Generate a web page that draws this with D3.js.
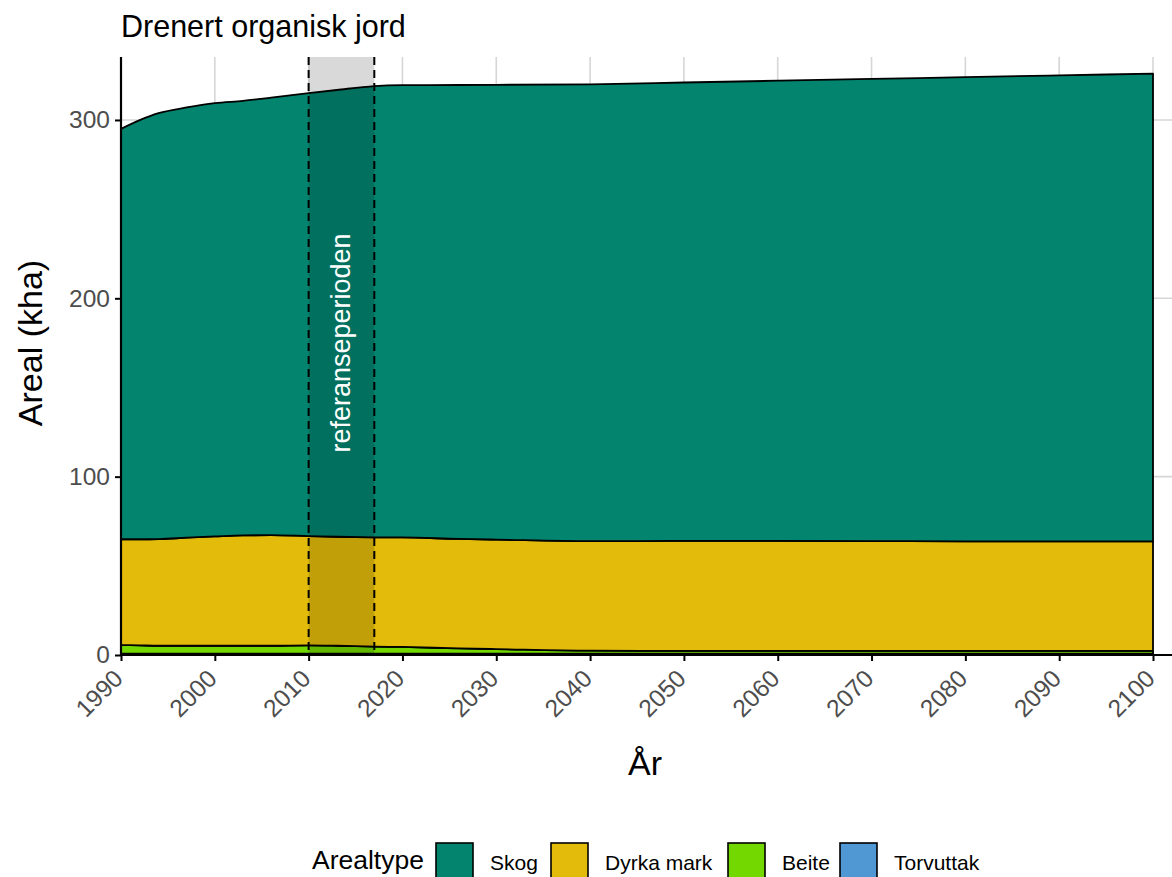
<!DOCTYPE html>
<html><head><meta charset="utf-8">
<script src="https://cdn.jsdelivr.net/npm/d3@7"></script>
<style>body{margin:0;background:#fff;} text{font-family:"Liberation Sans",Arial,sans-serif;}</style>
</head><body>
<svg id="c" width="1172" height="877"></svg>
<script>
const years      = [1990,1992,1994,1997,2000,2003,2006,2010,2013,2017,2020,2026,2030,2040,2050,2060,2070,2080,2090,2100];
const torvuttak  = [0.8,0.8,0.8,0.8,0.8,0.8,0.8,0.8,0.8,0.8,0.8,0.8,0.8,0.8,0.8,0.8,0.8,0.8,0.8,0.8];
const beite      = [4.8,4.6,4.4,4.4,4.4,4.4,4.4,4.6,4.4,3.9,3.7,2.9,2.5,1.6,1.5,1.5,1.5,1.5,1.5,1.5];
const dyrka      = [59.3,59.5,59.8,60.6,61.3,61.9,62.0,61.3,61.1,61.3,61.4,61.4,61.4,61.4,61.7,61.7,61.6,61.4,61.4,61.4];
const skog       = [230.1,235.0,238.8,241.2,242.9,243.6,245.3,248.3,250.5,253.0,253.6,254.5,255.0,256.2,257.0,258.0,259.1,260.3,261.3,262.3];
const seriesNames = ["Skog","Dyrka mark","Beite","Torvuttak"];
const colors = ["#02846F","#E3BB0A","#72D800","#4F98D4"];
const refPeriod = [2010, 2017];
const xTicks = [1990,2000,2010,2020,2030,2040,2050,2060,2070,2080,2090,2100];
const yTicks = [0,100,200,300];
const title = "Drenert organisk jord";

const svg = d3.select("#c");
const L = 121, R = 1153, T = 57, B = 655;
const x = d3.scaleLinear().domain([1990,2100]).range([L,R]);
const y = d3.scaleLinear().domain([0,335.3]).range([B,T]);
const panelRight = 1172;

// grid
const g = svg.append("g");
g.selectAll(".gx").data(xTicks).join("line")
  .attr("x1",d=>x(d)).attr("x2",d=>x(d)).attr("y1",T).attr("y2",B)
  .attr("stroke","#d6d6d6").attr("stroke-width",1.6);
g.selectAll(".gy").data(yTicks).join("line")
  .attr("x1",L).attr("x2",panelRight).attr("y1",d=>y(d)).attr("y2",d=>y(d))
  .attr("stroke","#d6d6d6").attr("stroke-width",1.6);

// stacked data
const rows = years.map((yr,i)=>({year:yr, "Skog":skog[i], "Dyrka mark":dyrka[i], "Beite":beite[i], "Torvuttak":torvuttak[i]}));
const stack = d3.stack().keys(["Torvuttak","Beite","Dyrka mark","Skog"]);
const layers = stack(rows);
const area = d3.area().curve(d3.curveMonotoneX).x(d=>x(d.data.year)).y0(d=>y(d[0])).y1(d=>y(d[1]));
svg.append("g").selectAll("path").data(layers).join("path")
  .attr("d",area)
  .attr("fill",d=>colors[seriesNames.indexOf(d.key)])
  .attr("stroke","#000").attr("stroke-width",1.8).attr("stroke-linejoin","round");

// reference period
svg.append("rect").attr("x",x(refPeriod[0])).attr("width",x(refPeriod[1])-x(refPeriod[0]))
  .attr("y",T).attr("height",B-T).attr("fill","#000").attr("fill-opacity",0.15);
refPeriod.forEach(v=>{
  svg.append("line").attr("x1",x(v)).attr("x2",x(v)).attr("y1",T).attr("y2",B)
    .attr("stroke","#000").attr("stroke-width",2).attr("stroke-dasharray","8,5");
});
svg.append("text")
  .attr("transform",`translate(${(x(refPeriod[0])+x(refPeriod[1]))/2+9},${343}) rotate(-90)`)
  .attr("text-anchor","middle").attr("fill","#fff").attr("font-size",27).text("referanseperioden");

// axes
const xAxis = svg.append("g").attr("transform",`translate(0,${B})`)
  .call(d3.axisBottom(x).tickValues(xTicks).tickFormat(d3.format("d")).tickSize(6).tickSizeOuter(0));
xAxis.select(".domain").remove();
xAxis.selectAll(".tick line").attr("stroke","#000").attr("stroke-width",2);
xAxis.selectAll(".tick text").attr("font-size",24.5).attr("fill","#4d4d4d")
  .attr("text-anchor","end").attr("dy",0).attr("y",0)
  .attr("transform","translate(3,25) rotate(-45)")
  .style("font-family","'Liberation Sans',Arial,sans-serif");
svg.append("line").attr("x1",L).attr("x2",panelRight).attr("y1",B).attr("y2",B).attr("stroke","#000").attr("stroke-width",2.2);

const yAxis = svg.append("g").attr("transform",`translate(${L},0)`)
  .call(d3.axisLeft(y).tickValues(yTicks).tickSize(6).tickSizeOuter(0));
yAxis.select(".domain").remove();
yAxis.selectAll(".tick line").attr("stroke","#000").attr("stroke-width",2);
yAxis.selectAll(".tick text").attr("font-size",24.5).attr("fill","#4d4d4d").attr("x",-11)
  .style("font-family","'Liberation Sans',Arial,sans-serif");
svg.append("line").attr("x1",L).attr("x2",L).attr("y1",T).attr("y2",B+1).attr("stroke","#000").attr("stroke-width",2.2);

// titles
svg.append("text").attr("x",121).attr("y",37).attr("font-size",30.5).attr("fill","#000").text(title);
svg.append("text").attr("transform","translate(42,343) rotate(-90)").attr("text-anchor","middle")
  .attr("font-size",34).attr("fill","#000").text("Areal (kha)");
svg.append("text").attr("x",645).attr("y",775).attr("text-anchor","middle").attr("font-size",34).attr("fill","#000").text("År");

// legend
const lg = svg.append("g");
lg.append("text").attr("x",312).attr("y",869).attr("font-size",26.5).attr("fill","#000").text("Arealtype");
const boxX = [436,551,728,840];
seriesNames.forEach((n,i)=>{
  lg.append("rect").attr("x",boxX[i]).attr("y",843).attr("width",37).attr("height",40)
    .attr("fill",colors[i]).attr("stroke","#000").attr("stroke-width",1.6);
  lg.append("text").attr("x",boxX[i]+54).attr("y",870).attr("font-size",21).attr("fill","#000").text(n);
});
</script>
</body></html>
